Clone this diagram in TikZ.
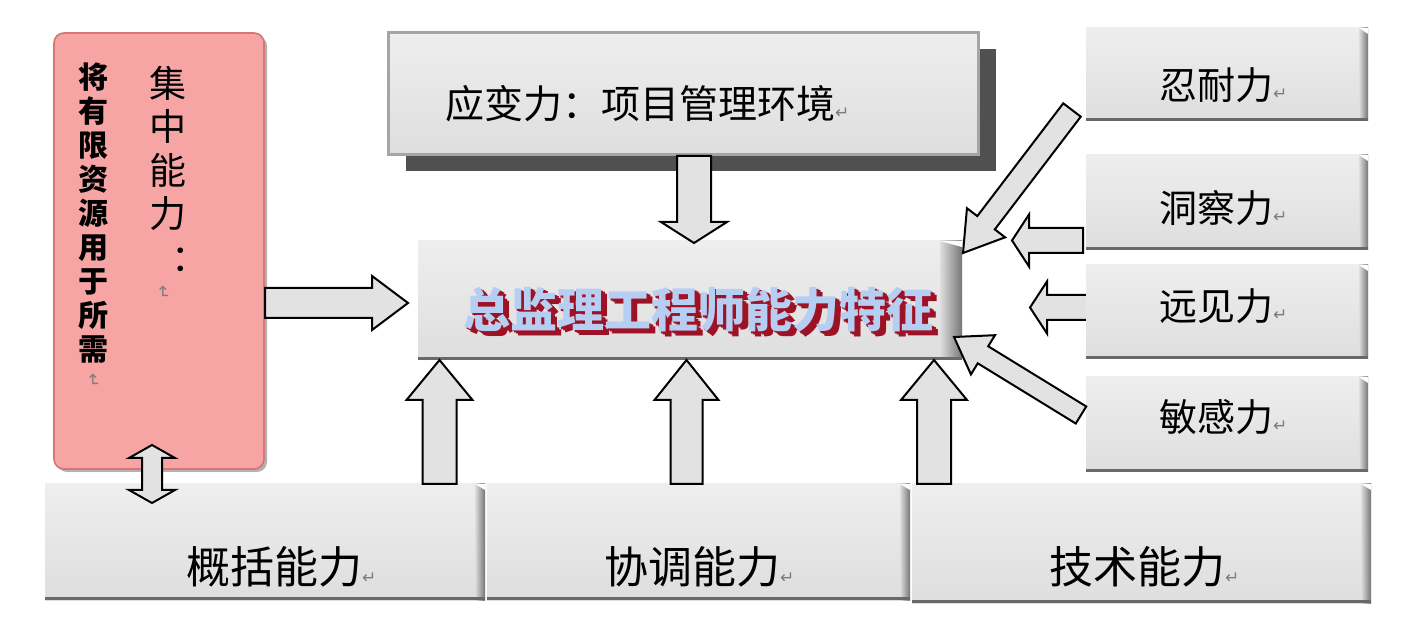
\documentclass[tikz,border=0pt]{standalone}
\usepackage{fontspec}
\newfontfamily\cjk{Noto Sans CJK SC}
\newfontfamily\symf{DejaVu Sans}
\usetikzlibrary{calc,fit,shadows}
\definecolor{faceg}{RGB}{222,222,222}
\definecolor{facetop}{RGB}{238,238,238}
\definecolor{edgeg}{RGB}{118,118,118}
\definecolor{botg}{RGB}{105,105,105}
\definecolor{pinkf}{RGB}{246,164,164}
\definecolor{pinkd}{RGB}{214,118,118}
\definecolor{shadowg}{RGB}{80,80,80}
\definecolor{arrowg}{RGB}{226,226,226}
\definecolor{titleblue}{RGB}{182,206,242}
\definecolor{titlered}{RGB}{158,18,38}
\definecolor{markg}{RGB}{125,125,125}
\definecolor{frameg}{RGB}{165,165,165}
\newcommand\pmark{{\symf\fontsize{8.5pt}{8.5pt}\selectfont\textcolor{markg}{↵}}}
\newcommand\ttltext{总监理工程师能力特征}
\newcommand\ttllayer[2]{\makebox[0pt][l]{\hspace{#1}\raisebox{-#2}{\textcolor{titlered}{\ttltext}}}}
% block arrow: start, end, shaft half width, head half width, head length
\newcommand\blockarrow[5]{%
  \draw[barrowst] ($(#1)!#3!90:(#2)$) -- ($(#2)!#5!(#1)!#3!-90:(#1)$)
    -- ($(#2)!#5!(#1)!#4!-90:(#1)$) -- (#2) -- ($(#2)!#5!(#1)!#4!90:(#1)$)
    -- ($(#2)!#5!(#1)!#3!90:(#1)$) -- ($(#1)!#3!-90:(#2)$) -- cycle;}
\newcommand\dblarrow[5]{%
  \draw[barrowst] (#1) -- ($(#1)!#5!(#2)!#4!90:(#2)$) -- ($(#1)!#5!(#2)!#3!90:(#2)$)
    -- ($(#2)!#5!(#1)!#3!-90:(#1)$) -- ($(#2)!#5!(#1)!#4!-90:(#1)$) -- (#2)
    -- ($(#2)!#5!(#1)!#4!90:(#1)$) -- ($(#2)!#5!(#1)!#3!90:(#1)$)
    -- ($(#1)!#5!(#2)!#3!-90:(#2)$) -- ($(#1)!#5!(#2)!#4!-90:(#2)$) -- cycle;}
\tikzset{
  barrowst/.style={draw=black, fill=arrowg, line width=1pt, line join=miter},
  bev/.style={inner sep=0pt, outer sep=0pt, fill=faceg, path picture={
    \shade[top color=facetop, bottom color=faceg] (path picture bounding box.north west) rectangle (path picture bounding box.south east);
    \shade[left color=faceg, right color=edgeg] ([xshift=-#1]path picture bounding box.north east) rectangle (path picture bounding box.south east);
    \fill[botg] (path picture bounding box.south west) rectangle ([yshift=1.6pt]path picture bounding box.south east);
    \fill[white] (path picture bounding box.north east) -- ([xshift=-#1]path picture bounding box.north east) -- ([yshift=-3pt]path picture bounding box.north east) -- cycle;
  }},
  bev/.default=5pt,
  topbox/.style={inner sep=0pt, draw=frameg, line width=1.5pt, top color=facetop, bottom color=faceg,
    drop shadow={shadow xshift=9pt, shadow yshift=-8pt, fill=shadowg, opacity=1}},
  pinkbox/.style={inner sep=0pt, rounded corners=5pt, fill=pinkf, draw=pinkd, line width=0.8pt,
    drop shadow={shadow xshift=1.5pt, shadow yshift=-1.5pt, fill=black!30, opacity=1}},
  rtxt/.style={inner sep=0pt, font=\cjk\fontsize{19pt}{19pt}\selectfont},
  btxt/.style={inner sep=0pt, font=\cjk\fontsize{22pt}{22pt}\selectfont},
  ttl/.style={inner sep=0pt, font=\cjk\bfseries\fontsize{23.5pt}{23.5pt}\selectfont},
}
\begin{document}
\begin{tikzpicture}[x=0.5pt,y=-0.5pt]
\useasboundingbox (0,0) rectangle (1413,635);
\fill[white] (0,0) rectangle (1413,635);

% pink box
\node[pinkbox, fit={(54,33) (264,469)}] (pink) {};
\node[inner sep=0pt, align=center, font=\cjk\bfseries\fontsize{15pt}{17pt}\selectfont] (pinkc1) at (93,213)
  {将\\有\\限\\资\\源\\用\\于\\所\\需};
\node[inner sep=0pt, align=center, font=\cjk\fontsize{18.5pt}{21.75pt}\selectfont] (pinkc2) at (168,168.5)
  {集\\中\\能\\力\\\makebox[1em][l]{\hspace{0.6em}：}};
\node[inner sep=0pt, rotate=-90] (pm1) at (163,293) {\pmark};
\node[inner sep=0pt, rotate=-90] (pm2) at (93,381) {\pmark};

% top box
\node[topbox, fit={(388,33) (978,155)}] (top) {};
\node[inner sep=0pt, font=\cjk\fontsize{19.5pt}{19.5pt}\selectfont] (toptxt) at (640,104) {应变力：项目管理环境\rlap{\pmark}};

% center box
\node[bev=11pt, fit={(418,241) (962,360)}] (center) {};
\node[ttl, text=titleblue] (title) at (698,312)
  {\ttllayer{3pt}{2.6pt}\ttllayer{2pt}{1.8pt}\ttllayer{1pt}{0.9pt}\ttltext};

% arrow behind the third right box
\coordinate (r3a) at (1100,307.5);
\coordinate (r3b) at (1030,307.5);
\blockarrow{r3a}{r3b}{6.25pt}{13pt}{8.5pt}

% right boxes
\node[bev=4.5pt, fit={(1086,28) (1368,121)}] (rb1) {};
\node[bev=4.5pt, fit={(1086,155) (1368,250)}] (rb2) {};
\node[bev=4.5pt, fit={(1086,265) (1368,359)}] (rb3) {};
\node[bev=4.5pt, fit={(1086,377) (1368,472)}] (rb4) {};
\node[rtxt] (trb1) at (1216,85) {忍耐力\rlap{\pmark}};
\node[rtxt] (trb2) at (1216,208) {洞察力\rlap{\pmark}};
\node[rtxt] (trb3) at (1216,306) {远见力\rlap{\pmark}};
\node[rtxt] (trb4) at (1216,417) {敏感力\rlap{\pmark}};

% bottom boxes
\node[bev=5pt, fit={(45,484) (485,600)}] (bb1) {};
\node[bev=5pt, fit={(487,484) (910,600)}] (bb2) {};
\node[bev=5pt, fit={(912,484) (1371,603)}] (bb3) {};
\node[btxt] (tbb1) at (274,567) {概括能力\rlap{\pmark}};
\node[btxt] (tbb2) at (692,567) {协调能力\rlap{\pmark}};
\node[btxt] (tbb3) at (1137,567) {技术能力\rlap{\pmark}};

% arrows
\coordinate (pa1) at (265,303);
\coordinate (pa2) at (408,303);
\blockarrow{pa1}{pa2}{7.5pt}{13.5pt}{18pt}
\coordinate (da1) at (694,156);
\coordinate (da2) at (694,243);
\blockarrow{da1}{da2}{8.5pt}{16.5pt}{10.5pt}
\coordinate (u1a) at (439.5,484);
\coordinate (u1b) at (439.5,360);
\blockarrow{u1a}{u1b}{8.5pt}{16.5pt}{20pt}
\coordinate (u2a) at (686.5,484);
\coordinate (u2b) at (686.5,360);
\blockarrow{u2a}{u2b}{8pt}{16pt}{20pt}
\coordinate (u3a) at (934,484);
\coordinate (u3b) at (934,360);
\blockarrow{u3a}{u3b}{8.5pt}{16.5pt}{20pt}
\coordinate (r1a) at (1072,110);
\coordinate (r1b) at (963,253);
\blockarrow{r1a}{r1b}{5.5pt}{12pt}{19pt}
\coordinate (r2a) at (1083,240.5);
\coordinate (r2b) at (1012,240.5);
\blockarrow{r2a}{r2b}{6.25pt}{13pt}{8.5pt}
\coordinate (r4a) at (1081,415);
\coordinate (r4b) at (954,337);
\blockarrow{r4a}{r4b}{5pt}{11.5pt}{17pt}
\coordinate (dba) at (152,445);
\coordinate (dbb) at (152,503);
\dblarrow{dba}{dbb}{5pt}{11.5pt}{6.5pt}
\end{tikzpicture}
\end{document}
